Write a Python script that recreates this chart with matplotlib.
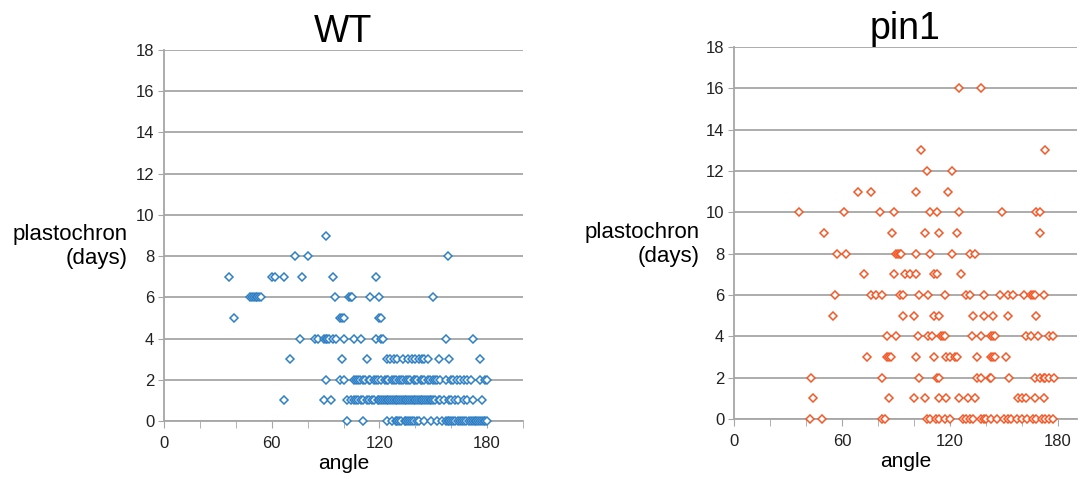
import numpy as np
import matplotlib
matplotlib.use("Agg")
import matplotlib.pyplot as plt
from matplotlib.ticker import MultipleLocator, FixedLocator

plt.rcParams['font.family'] = ['Liberation Sans', 'DejaVu Sans']

# WT: plastochron (days) -> angles
wt = {
    9: [90],
    8: [73, 80, 158],
    7: [36, 60, 62, 67, 77, 94, 118],
    6: [48, 49, 50, 51, 52, 53, 54, 95, 103, 104, 105, 115, 120, 150],
    5: [39, 98, 99, 100, 120, 121],
    4: [76, 84, 86, 89, 90, 91, 92, 94, 96, 100, 106, 110, 118, 121, 122, 157, 172],
    3: [70, 99, 113, 124, 126, 128, 130, 133, 136, 138, 140, 142, 144, 145, 147,
        153, 159, 176],
    2: [90, 98, 100, 106, 107, 108, 109, 111, 112, 114, 115, 117, 118, 119, 121,
        123, 124, 125, 127, 128, 129, 131, 132, 133, 135, 136, 137, 139, 140, 141,
        143, 144, 145, 147, 148, 150, 151, 152, 154, 157, 160, 161, 163, 165, 167,
        169, 171, 176, 179, 180],
    1: [67, 89, 93, 102, 104, 106, 107, 108, 110, 111, 113, 114, 116, 117, 119,
        120, 121, 122, 123, 124, 125, 126, 127, 128, 129, 130, 131, 132, 133, 134,
        135, 136, 137, 138, 139, 140, 141, 142, 143, 144, 145, 146, 147, 148, 149,
        150, 151, 153, 154, 156, 159, 160, 162, 164, 167, 169, 172, 177],
    0: [102, 111, 124, 127, 129, 130, 131, 132, 134, 135, 136, 137, 138, 139, 141,
        142, 145, 149, 152, 155, 157, 158, 159, 160, 161, 162, 164, 165, 166, 167,
        168, 170, 171, 172, 173, 174, 175, 176, 177, 178, 179, 180],
}

# pin1: plastochron (days) -> angles
pin1 = {
    16: [125, 137],
    13: [104, 173],
    12: [107, 121],
    11: [69, 76, 101, 119],
    10: [36, 61, 81, 89, 109, 113, 125, 149, 168, 170],
    9: [50, 88, 106, 114, 124, 170],
    8: [57, 62, 90, 91, 92, 93, 101, 109, 121, 131, 134],
    7: [72, 89, 95, 98, 101, 111, 113, 126],
    6: [56, 76, 79, 82, 92, 94, 103, 108, 117, 129, 131, 139, 148, 152, 155, 161,
        165, 166, 167, 172],
    5: [55, 94, 100, 111, 114, 133, 139, 144, 152, 168],
    4: [85, 90, 102, 108, 110, 115, 116, 117, 132, 137, 143, 144, 145, 162, 165,
        169, 175, 177],
    3: [74, 85, 86, 87, 101, 111, 118, 120, 123, 124, 135, 143, 144, 145, 151],
    2: [43, 82, 103, 113, 114, 135, 137, 142, 143, 153, 167, 170, 172, 173, 175, 178],
    1: [44, 86, 100, 106, 114, 118, 125, 130, 134, 158, 160, 162, 167, 172],
    0: [42, 49, 82, 84, 107, 109, 112, 114, 117, 120, 127, 129, 131, 133, 137, 139,
        140, 143, 146, 150, 152, 154, 157, 160, 163, 166, 168, 171, 173, 175, 177],
}

W, H = 1086, 479
fig = plt.figure(figsize=(W / 100, H / 100), dpi=100)


def make_panel(rect, data, color, title, xmax):
    ax = fig.add_axes(rect)
    xs, ys = [], []
    for d, angles in data.items():
        xs += angles
        ys += [d] * len(angles)
    ax.plot(xs, ys, linestyle='none', marker='D', markersize=4.0,
            markerfacecolor='white', markeredgecolor=color, markeredgewidth=1.1,
            clip_on=False, zorder=3)
    ax.set_xlim(0, xmax)
    ax.set_ylim(0, 18)
    ax.yaxis.set_major_locator(MultipleLocator(2))
    ax.xaxis.set_major_locator(FixedLocator([0, 60, 120, 180]))
    ax.xaxis.set_minor_locator(MultipleLocator(20))
    ax.grid(axis='y', color='#a6a6a6', linewidth=1.3)
    ax.set_axisbelow(True)
    for s in ['top', 'right']:
        ax.spines[s].set_visible(False)
    for s in ['left', 'bottom']:
        ax.spines[s].set_color('#a6a6a6')
        ax.spines[s].set_linewidth(1.3)
    ax.tick_params(axis='both', which='both', colors='#a6a6a6', labelcolor='#222222',
                   labelsize=12, direction='out')
    ax.tick_params(axis='y', length=4, pad=3)
    ax.tick_params(axis='x', which='both', length=5, pad=6)
    ax.set_title(title, fontsize=27, pad=6)
    ax.set_xlabel('angle', fontsize=15, labelpad=2)
    ax.set_ylabel('plastochron\n(days)', fontsize=16, rotation=0, ha='right',
                  va='center', multialignment='right')
    ax.yaxis.set_label_coords(-0.1, 0.47)
    return ax


make_panel([164 / W, 1 - 421 / H, (523 - 164) / W, (421 - 50) / H],
           wt, '#2f80c4', 'WT', 200)
make_panel([734 / W, 1 - 419 / H, (1077 - 734) / W, (419 - 47) / H],
           pin1, '#f25a2a', 'pin1', 190.5)

fig.savefig('out.png', dpi=100)
